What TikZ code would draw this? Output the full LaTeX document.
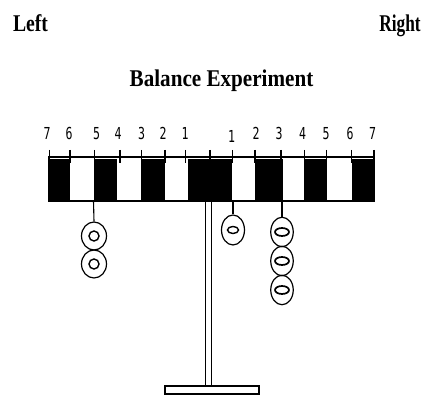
\documentclass[tikz,border=0pt]{standalone}
\usepackage{fontspec}
\setmainfont{Liberation Serif}
\newfontfamily\digitfont{DejaVu Sans Mono}
\usetikzlibrary{shapes.geometric}
\begin{document}
\begin{tikzpicture}[x=1pt,y=-1pt,line width=1.1pt,
  heading/.style={font=\bfseries\fontsize{24}{24}\selectfont,anchor=base,inner sep=0},
  num/.style={font=\digitfont\fontsize{16.5}{16.5}\selectfont,anchor=base,inner sep=0},
  weight/.style={draw,ellipse,inner sep=0,line width=1.2pt},
  ring/.style={draw,line width=1.4pt}]
\useasboundingbox[fill=white] (0,0) rectangle (432,395);

% headings
\node[heading] (left)  at (30.5,31.5) {\scalebox{0.82}[1]{Left}};
\node[heading] (right) at (400,31.5) {\scalebox{0.72}[1]{Right}};
\node[heading] (title) at (221.5,86.5) {\scalebox{0.88}[1]{Balance Experiment}};

% position numbers
\foreach \x/\t in {47/7,69/6,96.5/5,118/4,141.5/3,163/2,185/1,256/2,279/3,302.5/4,326/5,350/6,372.5/7}
  \node[num] at (\x,140) {\scalebox{0.7}[1]{\t}};
\node[num] (r1) at (231.5,143) {\scalebox{0.7}[1]{1}};

% beam: black blocks, outline, scale line and ticks
\foreach \a/\b in {49/70,94/117,140.5/164.5,188/232,255/283,304/326.7,351.7/374}
  \fill (\a,159.5) rectangle (\b,201);
\draw (49,157) rectangle (374,201);
\foreach \x in {49.3,70,94.3,120,141.7,165,185.7,210,232.3,255,281,304.3,326.7,351.7,374}
  \draw (\x,150) -- (\x,163);

% stand
\draw (205.5,201) -- (205.5,386);
\draw (211.5,201) -- (211.5,386);
\draw (165,386) rectangle (259,394);

% hanging points under the beam
\coordinate (h5) at (93.5,201);
\coordinate (h1) at (233,201);
\coordinate (h3) at (282,201);

% weights at left 5
\node[weight,minimum width=25pt,minimum height=28pt] (l5a) at (94,236) {};
\node[weight,minimum width=25pt,minimum height=28pt] (l5b) at (94,264) {};
\draw[ring] (l5a.center) circle[radius=5];
\draw[ring] (l5b.center) circle[radius=5];
\draw (h5) -- (l5a.north);

% weight at right 1
\node[weight,minimum width=23pt,minimum height=30pt] (r1a) at (233,230) {};
\draw[ring] (r1a.center) ellipse[x radius=5.5,y radius=3.5];
\draw (h1) -- (r1a.north);

% weights at right 3
\node[weight,minimum width=22.5pt,minimum height=29.5pt] (r3a) at (282,232) {};
\node[weight,minimum width=22.5pt,minimum height=29.5pt] (r3b) at (282,261) {};
\node[weight,minimum width=22.5pt,minimum height=29.5pt] (r3c) at (282,290) {};
\foreach \w in {r3a,r3b,r3c}
  \draw[ring,line width=1.7pt] (\w.center) ellipse[x radius=7,y radius=4];
\draw (h3) -- (r3a.north);
\end{tikzpicture}
\end{document}
